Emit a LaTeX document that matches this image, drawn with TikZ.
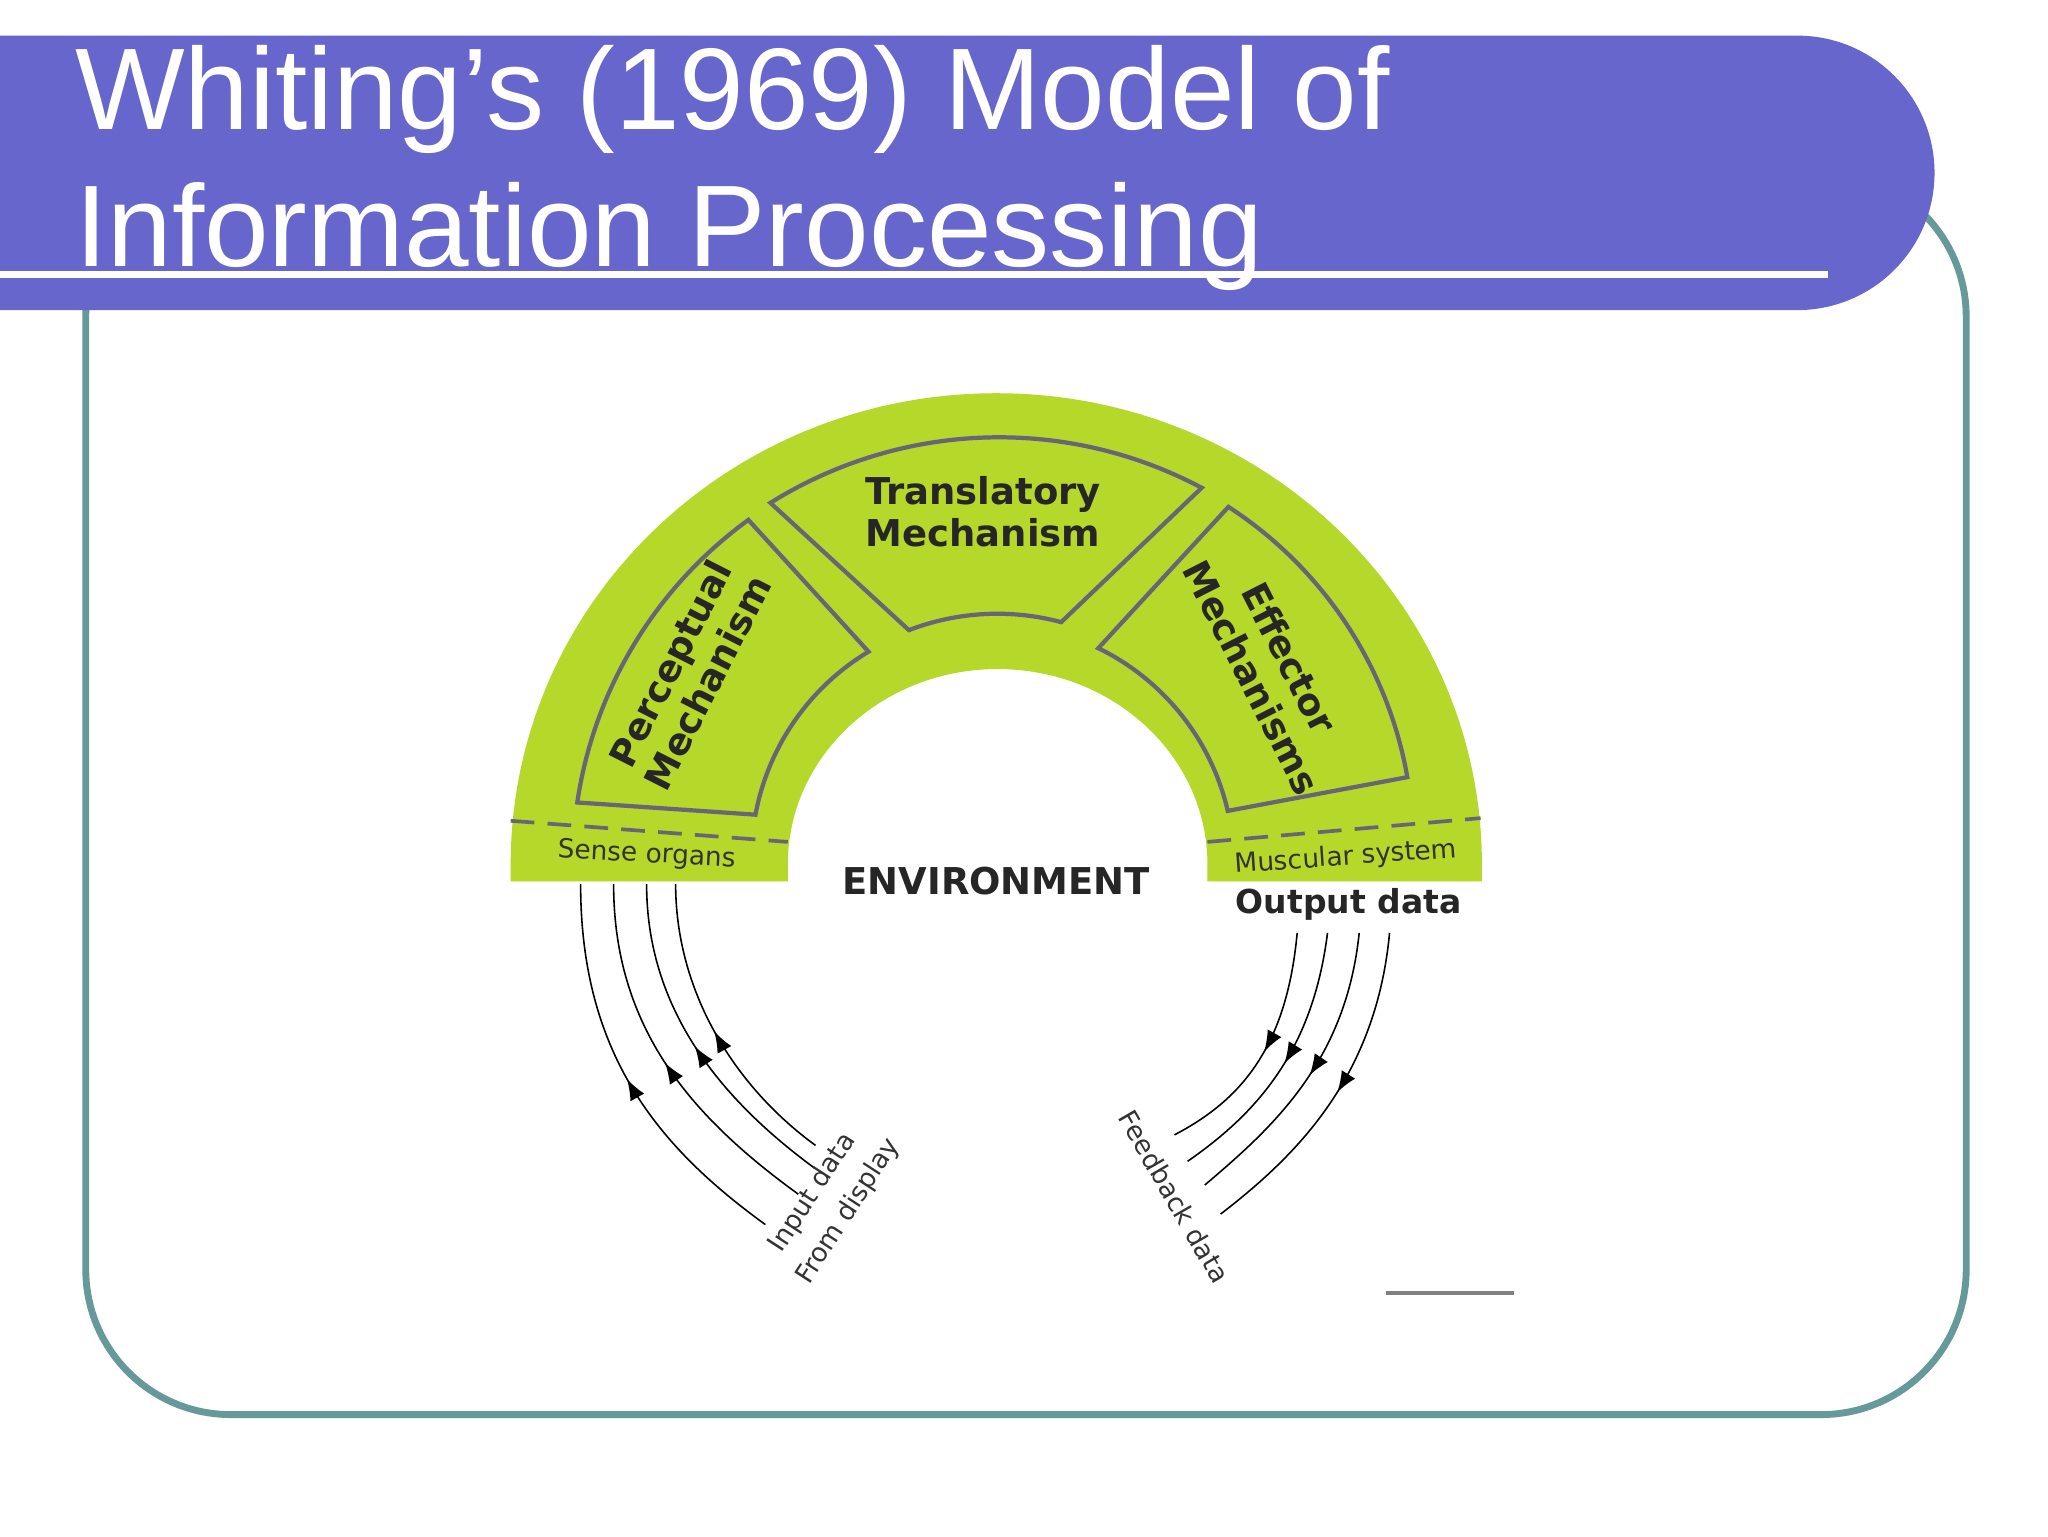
\documentclass[tikz,border=0pt]{standalone}
\usepackage{fontspec}
\setmainfont{Liberation Sans}
\newfontfamily\vfont{DejaVu Sans}
\usetikzlibrary{arrows.meta,decorations.markings}
\definecolor{titlebg}{HTML}{6666CC}
\definecolor{frame}{HTML}{669999}
\definecolor{leaf}{HTML}{B5D82B}
\definecolor{boxline}{HTML}{666677}
\tikzset{
  box/.style={draw=boxline,line width=1.6pt},
  lab/.style={font=\vfont\bfseries\fontsize{14}{16}\selectfont,text=black!85,align=center},
  small/.style={font=\vfont\fontsize{10}{12}\selectfont,text=black!80},
  upflow/.style={line width=0.6pt,postaction={decorate},decoration={markings,mark=at position 0.5 with {\arrow{Latex[length=8pt,width=6pt]}}}}
}
\begin{document}
\begin{tikzpicture}[x=0.5pt,y=0.5pt]
\useasboundingbox (0,0) rectangle (1552,1164);
\fill[white] (0,0) rectangle (1552,1164);
% frame
\draw[frame,line width=2.6pt,rounded corners=55pt] (65,92) rectangle (1490,1034);
% title band
\fill[titlebg] (0,929) -- (1362,929) arc[start angle=-90,end angle=90,radius=104] -- (0,1137) -- cycle;
\draw[white,line width=3pt] (0,956) -- (1385,956);
\node[anchor=base west,text=white,font=\fontsize{44}{50}\selectfont] (t1) at (50,1066) {Whiting’s (1969) Model of};
\node[anchor=base west,text=white,font=\fontsize{44}{50}\selectfont] (t2) at (50,962) {Information Processing};
% green arch
\fill[leaf] (387,496) -- (387,509) arc[start angle=180,end angle=0,x radius=368,y radius=357] -- (1123,496) -- (915,496) -- (915,509) arc[start angle=0,end angle=180,x radius=159,y radius=148] -- (597,496) -- cycle;
\draw[boxline,dashed,line width=1.4pt,dash pattern=on 9pt off 5pt] (387,542) -- (597,526);
\draw[boxline,dashed,line width=1.4pt,dash pattern=on 9pt off 5pt] (915,526) -- (1122,544);
\begin{scope}[shift={(755,509)}]
\draw[box] (171.6:321) arc[start angle=171.6,end angle=126,radius=323] -- (121:188) arc[start angle=121,end angle=169.5,radius=183] -- cycle;
\draw[box] (122:323) arc[start angle=122,end angle=62,radius=327] -- (75:190) arc[start angle=75,end angle=111,radius=187] -- cycle;
\draw[box] (57:323) arc[start angle=57,end angle=10,radius=308] -- (13:180) arc[start angle=13,end angle=64,radius=183] -- cycle;
\end{scope}
\node[lab,rotate=63] (per) at (522,654) {Perceptual\\Mechanism};
\node[lab] (tra) at (745,776) {Translatory\\Mechanism};
\node[lab,rotate=-63] (eff) at (963,658) {Effector\\Mechanisms};
\node[small,rotate=-3] (sen) at (490,516) {Sense organs};
\node[small,rotate=4] (mus) at (1020,514) {Muscular system};
\node[font=\vfont\bfseries\fontsize{14}{16}\selectfont,text=black!85] (env) at (755,496) {ENVIRONMENT};
\node[font=\vfont\bfseries\fontsize{12.5}{14}\selectfont,text=black!85] (out) at (1022,479) {Output data};
% input arrows
\draw[upflow] (580,236) .. controls (500,294) and (440,364) .. (440,494);
\draw[upflow] (605,259) .. controls (525,317) and (465,384) .. (465,494);
\draw[upflow] (617,279) .. controls (545,332) and (490,400) .. (490,494);
\draw[upflow] (618,296) .. controls (555,342) and (512,414) .. (512,494);
% output arrows
\draw[upflow] (983,457) .. controls (975,370) and (940,330) .. (890,304);
\draw[upflow] (1006,457) .. controls (995,370) and (955,322) .. (900,284);
\draw[upflow] (1030,457) .. controls (1020,360) and (965,310) .. (913,266);
\draw[upflow] (1053,457) .. controls (1043,350) and (985,290) .. (925,244);
\node[small,rotate=57,inner sep=1pt] (inp) at (616,260) {Input data};
\node[small,rotate=57,inner sep=1pt] (fro) at (643,246) {From display};
\node[small,rotate=-60] (fee) at (890,257) {Feedback data};
\draw[gray,line width=1.5pt] (1050,184) -- (1147,184);
\end{tikzpicture}
\end{document}
